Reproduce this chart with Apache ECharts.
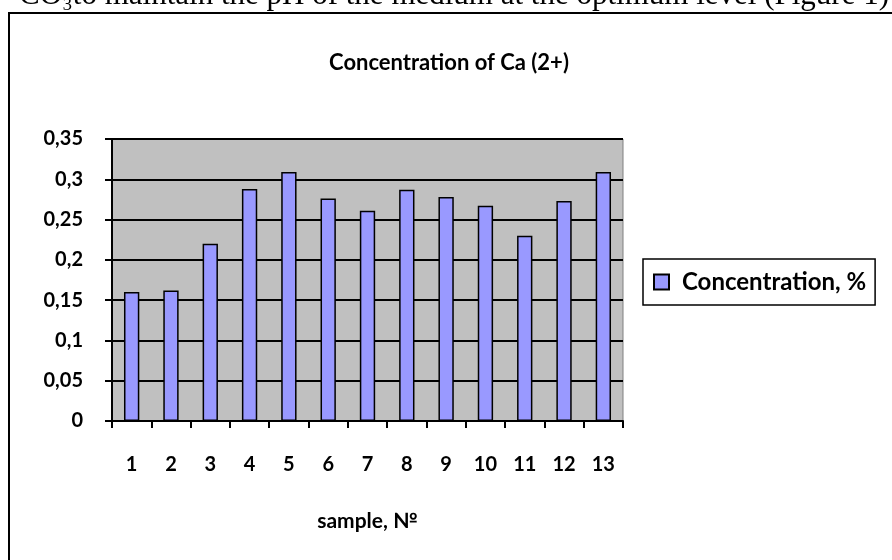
<!DOCTYPE html>
<html>
<head>
<meta charset="utf-8">
<script src="https://cdn.jsdelivr.net/npm/echarts@6/dist/echarts.min.js"></script>
<style>html,body{margin:0;padding:0;background:#fff;}#c{width:892px;height:560px;}</style>
</head>
<body>
<div id="c"></div>
<script>
const categories = ['1','2','3','4','5','6','7','8','9','10','11','12','13'];
const concentration = [0.16, 0.162, 0.22, 0.288, 0.309, 0.276, 0.261, 0.287, 0.278, 0.267, 0.23, 0.273, 0.309];
const seriesName = 'Concentration, %';
const chartTitle = 'Concentration of Ca (2+)';
const xAxisName = 'sample, №';
const pageText = 'CO₃to maintain the pH of the medium at the optimum level (Figure 1)';

const FONT = 'Lato, "Noto Sans", sans-serif';
const chart = echarts.init(document.getElementById('c'), null, {renderer: 'canvas'});
chart.setOption({
  animation: false,
  backgroundColor: '#fff',
  graphic: [
    {type: 'text', x: 889, y: -4, silent: true,
     style: {text: pageText, font: '31px "Liberation Serif", "Times New Roman", serif', fill: '#000',
             align: 'right', textAlign: 'right', verticalAlign: 'middle', textVerticalAlign: 'middle'}},
    {type: 'rect', shape: {x: 9, y: 13, width: 1000, height: 700}, silent: true,
     style: {fill: 'none', stroke: '#000', lineWidth: 2}}
  ],
  title: {
    text: chartTitle, left: 444, top: 47, textAlign: 'center',
    textStyle: {fontFamily: FONT, fontWeight: 'bold', fontSize: 22, color: '#000'}
  },
  legend: {
    data: [seriesName], orient: 'vertical', left: 643, top: 259,
    borderColor: '#000', borderWidth: 1.5, padding: [11, 9, 11, 10],
    icon: 'rect', itemWidth: 15, itemHeight: 15, itemGap: 0,
    textStyle: {fontFamily: FONT, fontWeight: 'bold', fontSize: 24, color: '#000', padding: [0, 0, 0, 8]}
  },
  grid: {
    left: 112, right: 269, top: 139, bottom: 139, containLabel: false,
    show: true, backgroundColor: '#c0c0c0', borderColor: '#808080', borderWidth: 1
  },
  xAxis: {
    type: 'category', data: categories, boundaryGap: true,
    name: xAxisName, nameLocation: 'middle', nameGap: 90,
    nameTextStyle: {fontFamily: FONT, fontWeight: 'bold', fontSize: 21, color: '#000'},
    axisLine: {show: true, lineStyle: {color: '#000', width: 2}},
    axisTick: {show: true, alignWithLabel: false, inside: false, length: 7, lineStyle: {color: '#000', width: 2}},
    axisLabel: {margin: 34, fontFamily: FONT, fontWeight: 'bold', fontSize: 20, color: '#000'},
    splitLine: {show: false}
  },
  yAxis: {
    type: 'value', min: 0, max: 0.35, interval: 0.05,
    axisLine: {show: true, lineStyle: {color: '#000', width: 2}},
    axisTick: {show: true, inside: false, length: 7, lineStyle: {color: '#000', width: 2}},
    axisLabel: {margin: 29, fontFamily: FONT, fontWeight: 'bold', fontSize: 20, color: '#000',
      formatter: v => String(+v.toFixed(2)).replace('.', ',')},
    splitLine: {show: true, lineStyle: {color: '#000', width: 2}}
  },
  series: [{
    name: seriesName, type: 'bar', data: concentration, barWidth: '39%',
    itemStyle: {color: '#9999ff', borderColor: '#000', borderWidth: 1.5}
  }]
});
</script>
</body>
</html>
